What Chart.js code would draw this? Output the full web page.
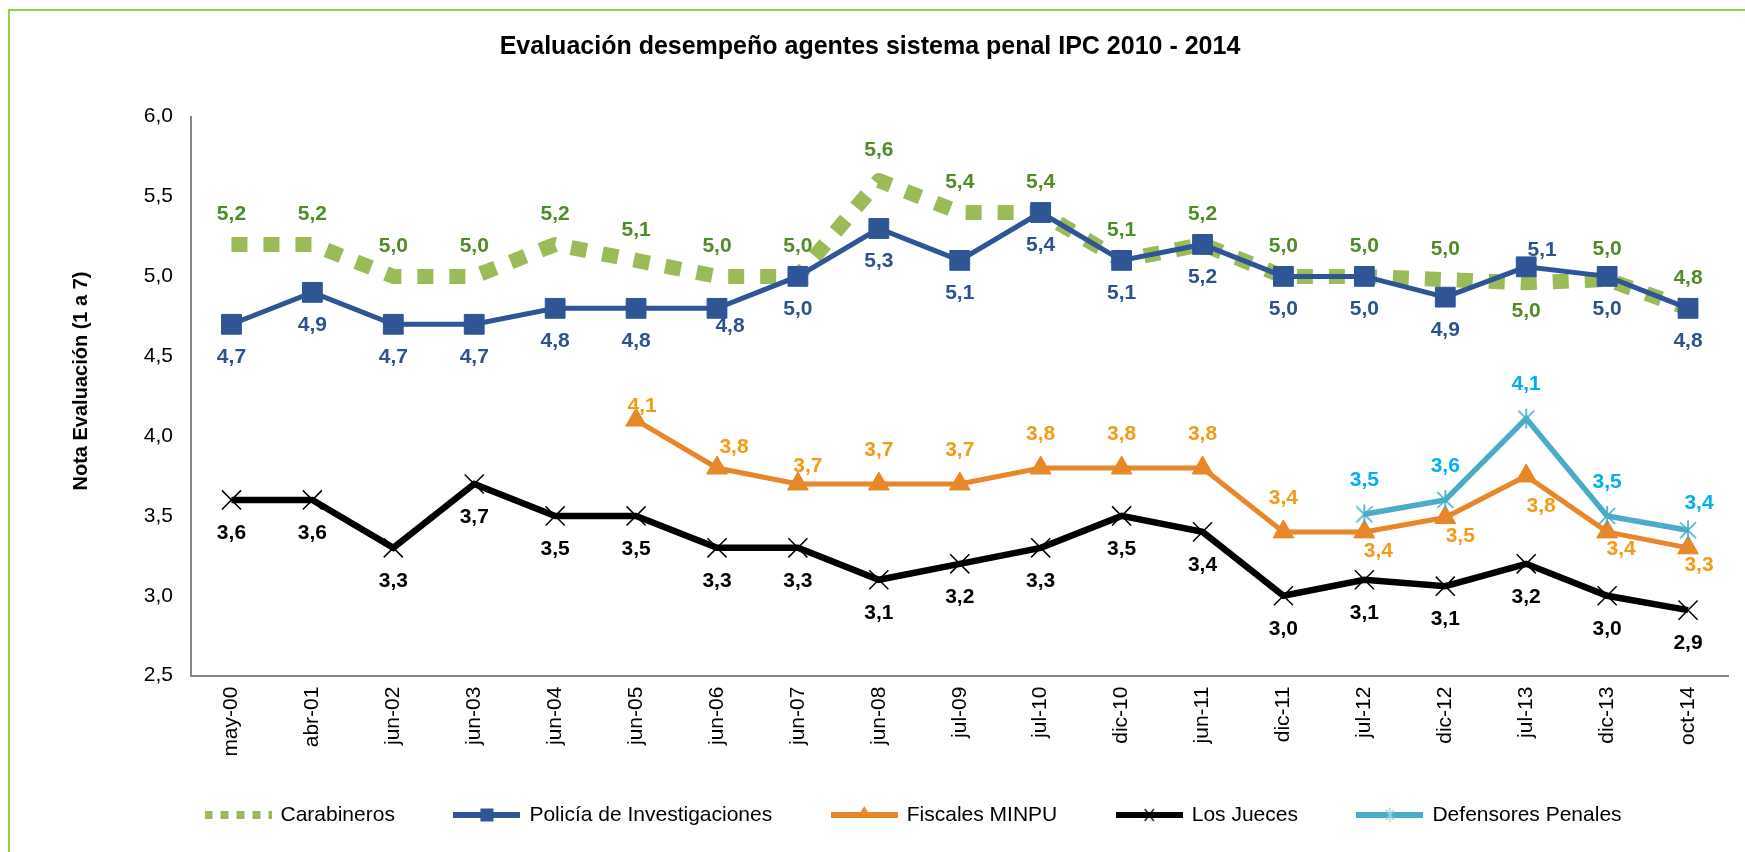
<!DOCTYPE html>
<html>
<head>
<meta charset="utf-8">
<script src="https://cdn.jsdelivr.net/npm/chart.js@4.4.1/dist/chart.umd.min.js"></script>
<style>
html,body{margin:0;padding:0;background:#fff;overflow:hidden}
#wrap{position:relative;width:1745px;height:852px}
</style>
</head>
<body>
<div id="wrap"><canvas id="c" width="1745" height="852"></canvas></div>
<script>
// ---------- data ----------
const chartTitle = 'Evaluación desempeño agentes sistema penal IPC 2010 - 2014';
const yAxisTitle = 'Nota Evaluación (1 a 7)';
const categories = ['may-00','abr-01','jun-02','jun-03','jun-04','jun-05','jun-06','jun-07','jun-08','jul-09','jul-10','dic-10','jun-11','dic-11','jul-12','dic-12','jul-13','dic-13','oct-14'];
const seriesNames = ['Carabineros','Policía de Investigaciones','Fiscales MINPU','Los Jueces','Defensores Penales'];
const carabineros = [5.2,5.2,5.0,5.0,5.2,5.1,5.0,5.0,5.6,5.4,5.4,5.1,5.2,5.0,5.0,4.98,4.96,4.98,4.8];
const policia     = [4.7,4.9,4.7,4.7,4.8,4.8,4.8,5.0,5.3,5.1,5.4,5.1,5.2,5.0,5.0,4.87,5.06,5.0,4.8];
const fiscales    = [null,null,null,null,null,4.1,3.8,3.7,3.7,3.7,3.8,3.8,3.8,3.4,3.4,3.49,3.75,3.4,3.3];
const jueces      = [3.6,3.6,3.3,3.7,3.5,3.5,3.3,3.3,3.1,3.2,3.3,3.5,3.4,3.0,3.1,3.06,3.2,3.0,2.91];
const defensores  = [null,null,null,null,null,null,null,null,null,null,null,null,null,null,3.51,3.6,4.11,3.5,3.41];
const yMin = 2.5, yMax = 6.0, yStep = 0.5;

// ---------- style ----------
const FONT = "'Liberation Sans', Arial, Helvetica, sans-serif";
const C_CARAB = '#9BBB59', C_CARAB_L = '#4E8C2A';
const C_POL = '#2F5597', C_POL_L = '#2F528F';
const C_FIS = '#E8862A', C_FIS_L = '#F59A14';
const C_JUE = '#000000', C_JUE_L = '#000000';
const C_DEF = '#4BACC6', C_DEF_L = '#00B0F0';

// label placement (offsets from the point, in px) per series: default + exceptions by index
const labelPlacement = {
  carab: {def:[0,-30], at:{16:[0,28]}},
  pol:   {def:[0,33],  at:{6:[13,18], 16:[16,-17]}},
  fis:   {def:[0,-34], at:{5:[6,-14], 6:[17,-21], 7:[10,-18], 14:[14,19], 15:[15,19], 16:[15,30], 17:[14,17], 18:[11,17]}},
  jue:   {def:[0,33],  at:{}},
  def:   {def:[0,-34], at:{18:[11,-27]}}
};

function fmt(v){ return v.toFixed(1).replace('.', ','); }

function makeCanvas(w,h,draw){ const c=document.createElement('canvas'); c.width=w; c.height=h; draw(c.getContext('2d'),w,h); return c; }

const starMarker = makeCanvas(22,22,g=>{
  g.strokeStyle=C_DEF; g.lineWidth=1.7; g.beginPath();
  g.moveTo(3,3); g.lineTo(19,19); g.moveTo(19,3); g.lineTo(3,19); g.moveTo(11,1); g.lineTo(11,21); g.stroke();
});

function lineSample(color, width, marker){
  return makeCanvas(67,24,g=>{
    g.strokeStyle=color; g.lineWidth=width; g.beginPath(); g.moveTo(0,12); g.lineTo(67,12); g.stroke();
    if(marker) marker(g);
  });
}
const legendSamples = [
  makeCanvas(67,24,g=>{ g.fillStyle=C_CARAB; for(let x=0;x<67;x+=16){ g.fillRect(x,8,Math.min(8,67-x),8); } }),
  lineSample(C_POL,6,g=>{ g.fillStyle=C_POL; g.fillRect(27,5.5,13,13); }),
  lineSample(C_FIS,6,g=>{ g.fillStyle=C_FIS; g.beginPath(); g.moveTo(33.5,3); g.lineTo(40.5,15); g.lineTo(26.5,15); g.closePath(); g.fill(); }),
  lineSample(C_JUE,6,g=>{ g.strokeStyle='#000'; g.lineWidth=1.3; g.beginPath(); g.moveTo(29,6); g.lineTo(38,18); g.moveTo(38,6); g.lineTo(29,18); g.stroke(); }),
  lineSample(C_DEF,6,g=>{ g.strokeStyle='#8fd3e6'; g.lineWidth=1.3; g.beginPath(); g.moveTo(29.5,7); g.lineTo(37.5,17); g.moveTo(37.5,7); g.lineTo(29.5,17); g.moveTo(33.5,5); g.lineTo(33.5,19); g.stroke(); })
];

// ---------- plugins ----------
const frame = {
  id:'frame',
  beforeDraw(chart){
    const ctx=chart.ctx; ctx.save();
    ctx.fillStyle='#fff'; ctx.fillRect(0,0,chart.width,chart.height);
    ctx.strokeStyle='#92D050'; ctx.lineWidth=2;
    ctx.beginPath(); ctx.moveTo(9,852); ctx.lineTo(9,10); ctx.lineTo(1745,10); ctx.stroke();
    ctx.restore();
  }
};
const yTitle = {
  id:'ytitle',
  afterDraw(chart){
    const ctx=chart.ctx; ctx.save();
    ctx.translate(81,381); ctx.rotate(-Math.PI/2);
    ctx.font='bold 20px '+FONT; ctx.fillStyle='#000'; ctx.textAlign='center'; ctx.textBaseline='middle';
    ctx.fillText(yAxisTitle,0,0); ctx.restore();
  }
};
const valueLabels = {
  id:'valueLabels',
  afterDatasetsDraw(chart){
    const ctx=chart.ctx; ctx.save();
    ctx.font='bold 21px '+FONT; ctx.textAlign='center'; ctx.textBaseline='middle';
    chart.data.datasets.forEach((ds,i)=>{
      const meta=chart.getDatasetMeta(i); const pl=labelPlacement[ds.key];
      ctx.fillStyle=ds.labelColor;
      ds.data.forEach((v,j)=>{
        if(v==null) return;
        const el=meta.data[j]; const o=pl.at[j]||pl.def;
        ctx.fillText(fmt(v), el.x+o[0], el.y+o[1]);
      });
    });
    ctx.restore();
  }
};
const legendPos = {
  id:'legendPos',
  afterLayout(chart){
    const L=chart.legend; if(!L) return;
    const h=L.height;
    L.left=206-60; L.right=1745;
    L.top=815-60-10.5; L.bottom=L.top+h;
  }
};

// ---------- chart ----------
new Chart(document.getElementById('c'), {
  type:'line',
  data:{
    labels:categories,
    datasets:[
      {key:'carab', label:seriesNames[0], data:carabineros, borderColor:C_CARAB, backgroundColor:C_CARAB, borderWidth:15, borderDash:[16,16], borderCapStyle:'butt', borderJoinStyle:'round', pointRadius:0, pointHoverRadius:0, tension:0, fill:false, order:5, labelColor:C_CARAB_L},
      {key:'pol', label:seriesNames[1], data:policia, borderColor:C_POL, backgroundColor:C_POL, borderWidth:5, pointStyle:'rect', pointRadius:14, pointHoverRadius:14, pointBackgroundColor:C_POL, pointBorderColor:C_POL, pointBorderWidth:1, tension:0, fill:false, order:4, labelColor:C_POL_L},
      {key:'fis', label:seriesNames[2], data:fiscales, borderColor:C_FIS, backgroundColor:C_FIS, borderWidth:5, pointStyle:'triangle', pointRadius:12, pointHoverRadius:12, pointBackgroundColor:C_FIS, pointBorderColor:C_FIS, pointBorderWidth:1, tension:0, fill:false, order:3, labelColor:C_FIS_L},
      {key:'jue', label:seriesNames[3], data:jueces, borderColor:C_JUE, backgroundColor:C_JUE, borderWidth:6.5, pointStyle:'crossRot', pointRadius:13.5, pointHoverRadius:13.5, pointBorderColor:'#000', pointBorderWidth:1.5, tension:0, fill:false, order:2, labelColor:C_JUE_L},
      {key:'def', label:seriesNames[4], data:defensores, borderColor:C_DEF, backgroundColor:C_DEF, borderWidth:5.5, pointStyle:starMarker, pointRadius:11, pointHoverRadius:11, tension:0, fill:false, order:1, labelColor:C_DEF_L}
    ]
  },
  options:{
    responsive:false, animation:false, devicePixelRatio:1,
    events:[],
    layout:{padding:{left:0,right:5,top:0,bottom:0}},
    plugins:{
      title:{display:true, text:chartTitle, color:'#000', font:{family:FONT, size:25, weight:'bold'}, padding:{top:32, bottom:54.7}},
      tooltip:{enabled:false},
      legend:{
        position:'bottom', align:'start',
        labels:{
          usePointStyle:true, pointStyleWidth:64, padding:60, color:'#000',
          font:{family:FONT, size:21},
          generateLabels:(chart)=>chart.data.datasets.map((ds,i)=>({text:ds.label, pointStyle:legendSamples[i], datasetIndex:i, hidden:false, lineWidth:0, fillStyle:'rgba(0,0,0,0)', strokeStyle:'rgba(0,0,0,0)', fontColor:'#000'}))
        }
      }
    },
    scales:{
      x:{
        offset:true,
        ticks:{autoSkip:false, maxRotation:90, minRotation:90, padding:11, color:'#000', font:{family:FONT, size:21}},
        grid:{display:false, drawTicks:false},
        border:{display:true, color:'#868686', width:2},
        afterFit(s){ s.height=85.4; }
      },
      y:{
        min:yMin, max:yMax,
        ticks:{stepSize:yStep, padding:18, color:'#000', font:{family:FONT, size:21}, callback:v=>fmt(v)},
        grid:{display:false, drawTicks:false},
        border:{display:true, color:'#868686', width:2},
        afterFit(s){ s.width=191; }
      }
    }
  },
  plugins:[frame, valueLabels, yTitle, legendPos]
});
</script>
</body>
</html>
